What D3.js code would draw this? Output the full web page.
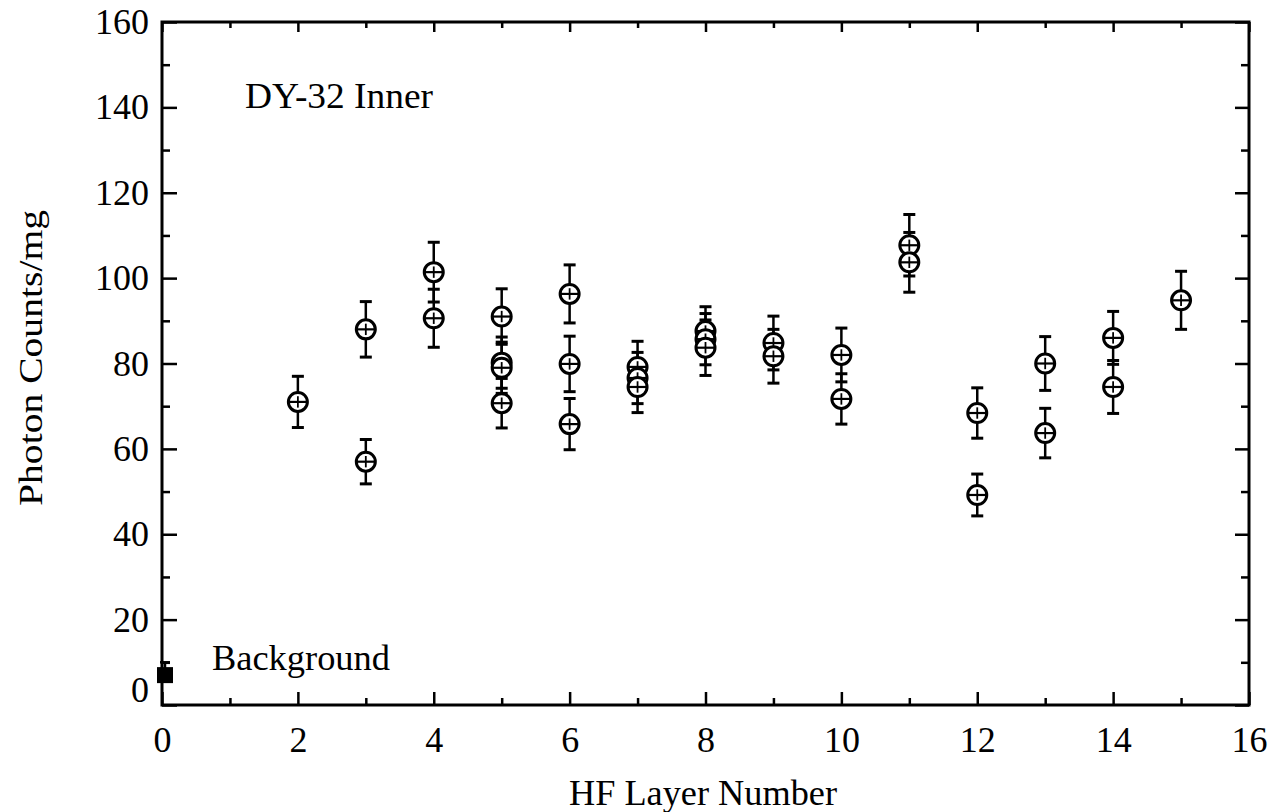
<!DOCTYPE html>
<meta charset="utf-8">
<title>DY-32 Inner photon counts</title>
<style>
body { margin: 0; background: #fff; }
text { font-family: "Liberation Serif", "Times New Roman", serif; fill: #000; }
</style>
<body>
<script src="https://d3js.org/d3.v7.min.js"></script>
<script>

var width = 1282,
    height = 812;

// HF layer, photon counts/mg, error (+/-)
var layers = [2, 3, 3, 4, 4, 5, 5, 5, 5, 6, 6, 6, 7, 7, 7, 8, 8, 8, 9, 9, 10, 10, 11, 11, 12, 12, 13, 13, 14, 14, 15];
var counts = [71, 88, 57, 101.4, 90.6, 91, 80.2, 79, 70.7, 96.3, 79.9, 65.8, 79.2, 76.6, 74.5, 87.6, 85.7, 83.7, 84.8, 81.7, 82, 71.7, 107.7, 103.7, 68.4, 49.2, 80, 63.7, 86, 74.5, 94.8];
var errors = [6, 6.5, 5.2, 7, 6.8, 6.5, 6, 6, 5.8, 6.8, 6.5, 6, 6, 6, 6, 5.7, 6, 6.5, 6.3, 6.3, 6.3, 5.9, 7.2, 7, 5.9, 4.9, 6.3, 5.8, 6.2, 6.2, 6.8];

var bgLayer = [0], bgCount = [7], bgError = [3];

var xMajor = [0, 2, 4, 6, 8, 10, 12, 14, 16];
var xMinor = [1, 3, 5, 7, 9, 11, 13, 15];
var yMajor = [0, 20, 40, 60, 80, 100, 120, 140, 160];
var yMinor = [10, 30, 50, 70, 90, 110, 130, 150];

var x = d3.scaleLinear().domain([0, 16]).range([162, 1249]);
var y = d3.scaleLinear().domain([0, 160]).range([705, 22]);

var svg = d3.select("body").append("svg")
    .attr("width", width)
    .attr("height", height);

function styleAxis(g) {
  g.select(".domain").remove();
  g.selectAll(".tick line").attr("stroke", "#000").attr("stroke-width", 2.5);
  g.selectAll(".tick text").style("font-size", "36px").attr("fill", "#000");
}

// bottom
svg.append("g").attr("transform", "translate(0,705)")
  .call(d3.axisBottom(x).tickValues(xMajor).tickSize(-13).tickPadding(21).tickFormat(d3.format("d")))
  .call(styleAxis);
svg.append("g").attr("transform", "translate(0,705)")
  .call(d3.axisBottom(x).tickValues(xMinor).tickSize(-7).tickFormat(""))
  .call(styleAxis);
// top
svg.append("g").attr("transform", "translate(0,22)")
  .call(d3.axisTop(x).tickValues(xMajor).tickSize(-10).tickFormat(""))
  .call(styleAxis);
svg.append("g").attr("transform", "translate(0,22)")
  .call(d3.axisTop(x).tickValues(xMinor).tickSize(-6).tickFormat(""))
  .call(styleAxis);
// left
var yLeft = svg.append("g").attr("transform", "translate(162,0)")
  .call(d3.axisLeft(y).tickValues(yMajor).tickSize(-15).tickPadding(13).tickFormat(d3.format("d")))
  .call(styleAxis);
yLeft.selectAll(".tick text").filter(function(d) { return d === 0; }).attr("dy", "-0.1em");
svg.append("g").attr("transform", "translate(162,0)")
  .call(d3.axisLeft(y).tickValues(yMinor).tickSize(-8).tickFormat(""))
  .call(styleAxis);
// right
svg.append("g").attr("transform", "translate(1249,0)")
  .call(d3.axisRight(y).tickValues(yMajor).tickSize(-14).tickFormat(""))
  .call(styleAxis);
svg.append("g").attr("transform", "translate(1249,0)")
  .call(d3.axisRight(y).tickValues(yMinor).tickSize(-8).tickFormat(""))
  .call(styleAxis);

// frame
svg.append("rect")
  .attr("x", x(0)).attr("y", y(160))
  .attr("width", x(16) - x(0)).attr("height", y(0) - y(160))
  .attr("fill", "none").attr("stroke", "#000").attr("stroke-width", 3);

var pts = layers.map(function(l, i) { return {x: l, y: counts[i], e: errors[i]}; });

var capW = 6, r = 9.5;

var g = svg.append("g").attr("stroke", "#000").attr("stroke-width", 2.5);

// error bars
pts.forEach(function(d) {
  g.append("line").attr("x1", x(d.x)).attr("x2", x(d.x))
    .attr("y1", y(d.y + d.e)).attr("y2", y(d.y - d.e));
  [d.y + d.e, d.y - d.e].forEach(function(v) {
    g.append("line").attr("x1", x(d.x) - capW).attr("x2", x(d.x) + capW)
      .attr("y1", y(v)).attr("y2", y(v)).attr("stroke-width", 3);
  });
});

// markers: open circle with cross
pts.forEach(function(d) {
  var cx = x(d.x), cy = y(d.y);
  g.append("circle").attr("cx", cx).attr("cy", cy).attr("r", r)
    .attr("fill", "#fff").attr("stroke-width", 3);
  g.append("line").attr("x1", cx - r).attr("x2", cx + r).attr("y1", cy).attr("y2", cy).attr("stroke-width", 2.2);
  g.append("line").attr("x1", cx).attr("x2", cx).attr("y1", cy - r * 0.6).attr("y2", cy + r * 0.6).attr("stroke-width", 1.8);
});

// background point
bgLayer.forEach(function(l, i) {
  var cx = x(l) + 3, cy = y(bgCount[i]);
  g.append("line").attr("x1", cx).attr("x2", cx)
    .attr("y1", y(bgCount[i] + bgError[i])).attr("y2", cy);
  g.append("line").attr("x1", cx - 5).attr("x2", cx + 5)
    .attr("y1", y(bgCount[i] + bgError[i])).attr("y2", y(bgCount[i] + bgError[i]));
  svg.append("rect").attr("x", cx - 8).attr("y", cy - 8)
    .attr("width", 16).attr("height", 16).attr("fill", "#000");
});

// labels
svg.append("text").attr("x", 245).attr("y", 108)
  .style("font-size", "36px").attr("textLength", 188).attr("lengthAdjust", "spacingAndGlyphs")
  .text("DY-32 Inner");
svg.append("text").attr("x", 212).attr("y", 670)
  .style("font-size", "36px").attr("textLength", 178).attr("lengthAdjust", "spacingAndGlyphs")
  .text("Background");

svg.append("text").attr("x", 703).attr("y", 805)
  .attr("text-anchor", "middle").style("font-size", "36px")
  .attr("textLength", 268).attr("lengthAdjust", "spacingAndGlyphs")
  .text("HF Layer Number");

svg.append("text")
  .attr("transform", "translate(42,358) rotate(-90)")
  .attr("text-anchor", "middle").style("font-size", "34px")
  .attr("textLength", 296).attr("lengthAdjust", "spacingAndGlyphs")
  .text("Photon Counts/mg");

</script>
</body>
